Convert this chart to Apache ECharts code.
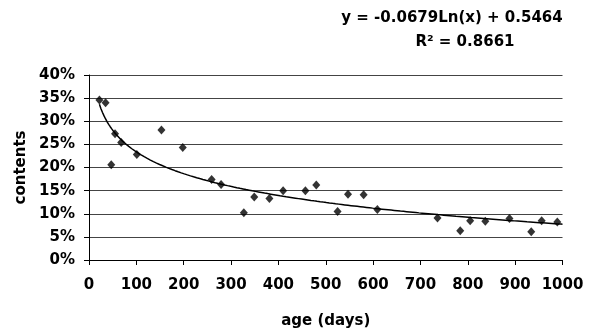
<!DOCTYPE html>
<html>
<head>
<meta charset="utf-8">
<script src="https://cdn.jsdelivr.net/npm/echarts@6/dist/echarts.min.js"></script>
<style>
html,body{margin:0;padding:0;background:#fff;}
#chart{width:589px;height:334px;}
</style>
</head>
<body>
<div id="chart"></div>
<script>
// Data
var ages = [22, 35, 47, 55, 68, 101, 153, 198, 259, 279, 327, 349, 381, 410, 457, 480, 525, 547, 580, 609, 736, 784, 805, 837, 888, 934, 956, 989];
var contents = [0.346, 0.340, 0.206, 0.273, 0.254, 0.228, 0.281, 0.243, 0.174, 0.163, 0.102, 0.136, 0.133, 0.150, 0.150, 0.162, 0.105, 0.142, 0.141, 0.109, 0.091, 0.063, 0.085, 0.084, 0.090, 0.061, 0.085, 0.082];
// Logarithmic trendline coefficients (as printed on the chart)
var trendSlope = -0.0679;
var trendIntercept = 0.5464;
var trendR2 = 0.8661;
var xTicks = [0, 1000, 100];
var yTicks = [0, 0.4, 0.05];

var FONT = '"DejaVu Sans", sans-serif';
var scatterData = ages.map(function (a, i) { return [a, contents[i]]; });
var xStart = Math.min.apply(null, ages);
var xEnd = xTicks[1];
var trendData = [];
var steps = 300;
for (var i = 0; i <= steps; i++) {
  var x = xStart + (xEnd - xStart) * i / steps;
  trendData.push([x, trendSlope * Math.log(x) + trendIntercept]);
}
var eqText = 'y = ' + trendSlope.toFixed(4) + 'Ln(x) + ' + trendIntercept.toFixed(4);

var chart = echarts.init(document.getElementById('chart'), null, {renderer: 'canvas'});
chart.setOption({
  animation: false,
  backgroundColor: '#fff',
  grid: {left: 89, right: 26.5, top: 75, bottom: 68.5, containLabel: false},
  graphic: [
    {type: 'text', x: 452, y: 18, style: {text: eqText, font: 'bold 15px ' + FONT, fill: '#000', align: 'center', verticalAlign: 'middle'}},
    {type: 'text', x: 465, y: 42, style: {text: 'R\u00B2 = ' + trendR2.toFixed(4), font: 'bold 15px ' + FONT, fill: '#000', align: 'center', verticalAlign: 'middle'}}
  ],
  xAxis: {
    type: 'value', min: xTicks[0], max: xTicks[1], interval: xTicks[2],
    name: 'age (days)', nameLocation: 'middle', nameGap: 54,
    nameTextStyle: {fontFamily: FONT, fontWeight: 'bold', fontSize: 15, color: '#000'},
    axisLine: {show: true, lineStyle: {color: '#000', width: 1}},
    axisTick: {show: true, inside: false, length: 5, lineStyle: {color: '#000'}},
    axisLabel: {margin: 18, fontFamily: FONT, fontWeight: 'bold', fontSize: 15, color: '#000',
      formatter: function (v) { return String(v); }},
    splitLine: {show: false}
  },
  yAxis: {
    type: 'value', min: yTicks[0], max: yTicks[1], interval: yTicks[2],
    name: 'contents', nameLocation: 'middle', nameGap: 58,
    nameTextStyle: {fontFamily: FONT, fontWeight: 'bold', fontSize: 15, color: '#000'},
    axisLine: {show: true, lineStyle: {color: '#000', width: 1}},
    axisTick: {show: true, inside: false, length: 5, lineStyle: {color: '#000'}},
    axisLabel: {margin: 14, fontFamily: FONT, fontWeight: 'bold', fontSize: 15, color: '#000',
      formatter: function (v) { return Math.round(v * 100) + '%'; }},
    splitLine: {show: true, lineStyle: {color: '#444', width: 1}}
  },
  series: [
    {type: 'scatter', data: scatterData, symbol: 'diamond', symbolSize: [8, 9],
      itemStyle: {color: '#000'}, z: 3},
    {type: 'line', data: trendData, showSymbol: false, symbol: 'none', smooth: false,
      lineStyle: {color: '#000', width: 1.5}, z: 2, silent: true}
  ]
});
</script>
</body>
</html>
